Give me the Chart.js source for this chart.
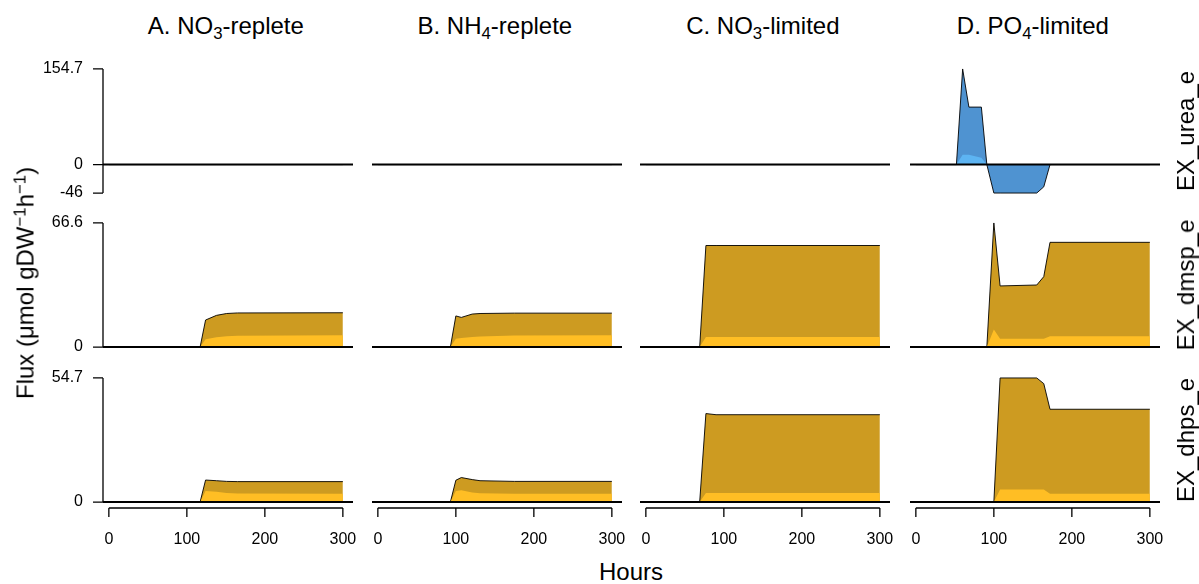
<!DOCTYPE html>
<html>
<head>
<meta charset="utf-8">
<script src="https://cdn.jsdelivr.net/npm/chart.js@4.4.1/dist/chart.umd.min.js"></script>
<style>
  body { margin: 0; width: 1199px; height: 584px; position: relative; background: #fff; overflow: hidden;
         font-family: "Liberation Sans", Arial, sans-serif; color: #000; }
  canvas { position: absolute; }
  .lbl { position: absolute; font-size: 24px; line-height: 24px; white-space: nowrap; transform: translate(-50%, -50%); }
  .rot { transform: translate(-50%, -50%) rotate(-90deg); }
  .sub { font-size: 70%; position: relative; top: 0.3em; }
  .sup { font-size: 70%; position: relative; top: -0.45em; }
</style>
</head>
<body>
<script>
// panel titles and row labels
const conditions = ['A. NO<span class="sub">3</span>-replete', 'B. NH<span class="sub">4</span>-replete',
                    'C. NO<span class="sub">3</span>-limited', 'D. PO<span class="sub">4</span>-limited'];
const fluxes = ['EX_urea_e', 'EX_dmsp_e', 'EX_dhps_e'];

// time points per condition (hours)
const hoursA = [0, 117, 124, 138, 151, 165, 300];
const hoursB = [0, 93, 100, 107, 121, 131, 175, 300];
const hoursC = [0, 69, 77, 90, 300];
const hoursD = [0, 52, 60, 68, 84, 91, 100, 108, 155, 164, 172, 300];

// fluxes: "lower" = light layer, "total" = stacked top (outlined)
const ureaLowerA = [0, 0, 0, 0, 0, 0, 0];
const ureaTotalA = [0, 0, 0, 0, 0, 0, 0];
const dmspLowerA = [0, 0, 4.2, 5.2, 5.8, 6.1, 6.3];
const dmspTotalA = [0, 0, 14.5, 17.0, 18.0, 18.3, 18.4];
const dhpsLowerA = [0, 0, 4.9, 4.5, 4.0, 3.8, 3.7];
const dhpsTotalA = [0, 0, 9.7, 9.4, 9.1, 9.0, 9.0];

const ureaLowerB = [0, 0, 0, 0, 0, 0, 0, 0];
const ureaTotalB = [0, 0, 0, 0, 0, 0, 0, 0];
const dmspLowerB = [0, 0, 4.5, 4.8, 5.4, 5.7, 6.2, 6.3];
const dmspTotalB = [0, 0, 16.7, 15.9, 17.7, 18.0, 18.2, 18.2];
const dhpsLowerB = [0, 0, 4.9, 5.2, 4.2, 3.9, 3.7, 3.7];
const dhpsTotalB = [0, 0, 9.6, 10.8, 9.9, 9.4, 9.1, 9.1];

const ureaLowerC = [0, 0, 0, 0, 0];
const ureaTotalC = [0, 0, 0, 0, 0];
const dmspLowerC = [0, 0, 5.4, 5.4, 5.4];
const dmspTotalC = [0, 0, 54.5, 54.5, 54.5];
const dhpsLowerC = [0, 0, 4.0, 4.0, 4.0];
const dhpsTotalC = [0, 0, 39.0, 38.5, 38.5];

const ureaLowerD = [0, 0, 16, 16, 11, 0, 0, 0, 0, 0, 0, 0];
const ureaTotalD = [0, 0, 154.7, 93, 93, 0, -46, -46, -46, -36, 0, 0];
const dmspLowerD = [0, 0, 0, 0, 0, 0, 9.4, 4.5, 4.5, 4.5, 5.8, 5.8];
const dmspTotalD = [0, 0, 0, 0, 0, 0, 66.6, 32.8, 33.3, 37.8, 56.2, 56.2];
const dhpsLowerD = [0, 0, 0, 0, 0, 0, 0, 5.5, 5.5, 5.5, 3.7, 3.7];
const dhpsTotalD = [0, 0, 0, 0, 0, 0, 0, 54.7, 54.7, 52.2, 40.9, 40.9];

// axis ticks
const xTicks = [0, 100, 200, 300];
const yTicksUrea = [-46, 0, 154.7];
const yTicksDmsp = [0, 66.6];
const yTicksDhps = [0, 54.7];

const hours = [hoursA, hoursB, hoursC, hoursD];
const rows = [
  { ticks: yTicksUrea, lower: [ureaLowerA, ureaLowerB, ureaLowerC, ureaLowerD], total: [ureaTotalA, ureaTotalB, ureaTotalC, ureaTotalD],
    lowerColor: '#5db4f2', totalColor: '#4f93d1' },
  { ticks: yTicksDmsp, lower: [dmspLowerA, dmspLowerB, dmspLowerC, dmspLowerD], total: [dmspTotalA, dmspTotalB, dmspTotalC, dmspTotalD],
    lowerColor: '#ffbe24', totalColor: '#cd9b21' },
  { ticks: yTicksDhps, lower: [dhpsLowerA, dhpsLowerB, dhpsLowerC, dhpsLowerD], total: [dhpsTotalA, dhpsTotalB, dhpsTotalC, dhpsTotalD],
    lowerColor: '#ffbe24', totalColor: '#cd9b21' }
];

// layout
const colLeft = [103, 372, 640, 910];
const rowTop = [64, 218, 373];
const panelW = 250, panelH = 134;
const yAxisW = 83, xAxisH = 45, margin = 14, marginR = 18;
const xLimits = [-7.5, 313];

Chart.defaults.font.family = "'Liberation Sans', Arial, sans-serif";
Chart.defaults.font.size = 16;
Chart.defaults.color = '#000';

// zero line + R style axis lines
const rAxes = {
  id: 'rAxes',
  afterDatasetsDraw(chart) {
    const { ctx, chartArea: a, scales: { y } } = chart;
    const y0 = y.getPixelForValue(0);
    ctx.save();
    ctx.strokeStyle = '#000';
    ctx.lineWidth = 2;
    ctx.beginPath(); ctx.moveTo(a.left, y0); ctx.lineTo(a.right, y0); ctx.stroke();
    ctx.restore();
  },
  afterDraw(chart) {
    const { ctx, chartArea: a, scales: { x, y } } = chart;
    ctx.save();
    ctx.strokeStyle = '#000';
    ctx.lineWidth = 1.3;
    ctx.beginPath();
    if (x.options.display) {
      const yy = a.bottom + 1;
      const px = x.ticks.map(t => x.getPixelForValue(t.value));
      ctx.moveTo(px[0], yy); ctx.lineTo(px[px.length - 1], yy);
      px.forEach(p => { ctx.moveTo(p, yy); ctx.lineTo(p, yy + 9); });
    }
    if (y.options.display) {
      const xx = a.left;
      const py = y.ticks.map(t => y.getPixelForValue(t.value));
      ctx.moveTo(xx, py[0]); ctx.lineTo(xx, py[py.length - 1]);
      py.forEach(p => { ctx.moveTo(xx, p); ctx.lineTo(xx - 10, p); });
    }
    ctx.stroke();
    ctx.restore();
  }
};

function addLabel(html, cx, cy, rotated) {
  const d = document.createElement('div');
  d.className = 'lbl' + (rotated ? ' rot' : '');
  d.innerHTML = html;
  d.style.left = cx + 'px';
  d.style.top = cy + 'px';
  document.body.appendChild(d);
}

rows.forEach((row, r) => {
  const lo = Math.min(...row.ticks), hi = Math.max(...row.ticks);
  const pad = (hi - lo) * 0.04;
  hours.forEach((hrs, c) => {
    const showY = c === 0, showX = r === rows.length - 1;
    const cv = document.createElement('canvas');
    const w = panelW + (showY ? yAxisW : 0) + marginR;
    const h = margin + panelH + (showX ? xAxisH : margin);
    cv.width = w; cv.height = h;
    cv.style.left = (colLeft[c] - (showY ? yAxisW : 0)) + 'px';
    cv.style.top = (rowTop[r] - margin) + 'px';
    document.body.appendChild(cv);

    const chart = new Chart(cv, {
      type: 'line',
      data: {
        datasets: [
          { data: hrs.map((t, i) => ({ x: t, y: row.lower[c][i] })), fill: 'origin',
            backgroundColor: row.lowerColor, borderWidth: 0, pointRadius: 0, tension: 0, order: 0 },
          { data: hrs.map((t, i) => ({ x: t, y: row.total[c][i] })), fill: 'origin',
            backgroundColor: row.totalColor, borderColor: '#000', borderWidth: 0.9, pointRadius: 0, tension: 0, order: 1 }
        ]
      },
      options: {
        responsive: false,
        animation: false,
        events: [],
        layout: { padding: { left: 0, right: marginR, top: margin, bottom: showX ? 0 : margin } },
        plugins: { legend: { display: false }, tooltip: { enabled: false } },
        scales: {
          x: {
            type: 'linear', min: xLimits[0], max: xLimits[1], display: showX,
            grid: { display: false, drawTicks: false }, border: { display: false },
            afterBuildTicks: s => { s.ticks = xTicks.map(v => ({ value: v })); },
            afterFit: s => {
              s.height = showX ? xAxisH : 0;
              s.paddingLeft = 0; s.paddingRight = 0;
            },
            ticks: { padding: 23, autoSkip: false, maxRotation: 0, callback: v => String(v) }
          },
          y: {
            type: 'linear', min: lo - pad, max: hi + pad, display: showY,
            grid: { display: false, drawTicks: false }, border: { display: false },
            afterBuildTicks: s => { s.ticks = row.ticks.map(v => ({ value: v })); },
            afterFit: s => {
              s.width = showY ? yAxisW : 0;
              s.paddingTop = 0; s.paddingBottom = 0;
            },
            ticks: { padding: 20, autoSkip: false, callback: v => String(v) }
          }
        }
      },
      plugins: [rAxes]
    });

    if (r === 0) {
      const cx = parseFloat(cv.style.left) + chart.scales.x.getPixelForValue(150);
      addLabel(conditions[c], cx, 27, false);
    }
  });
  addLabel(fluxes[r], 1185.5, rowTop[r] + panelH / 2, true);
});

addLabel('Flux (\u03bcmol gDW<span class="sup">\u22121</span>h<span class="sup">\u22121</span>)', 27, 283, true);
addLabel('Hours', 631, 572, false);
</script>
</body>
</html>
